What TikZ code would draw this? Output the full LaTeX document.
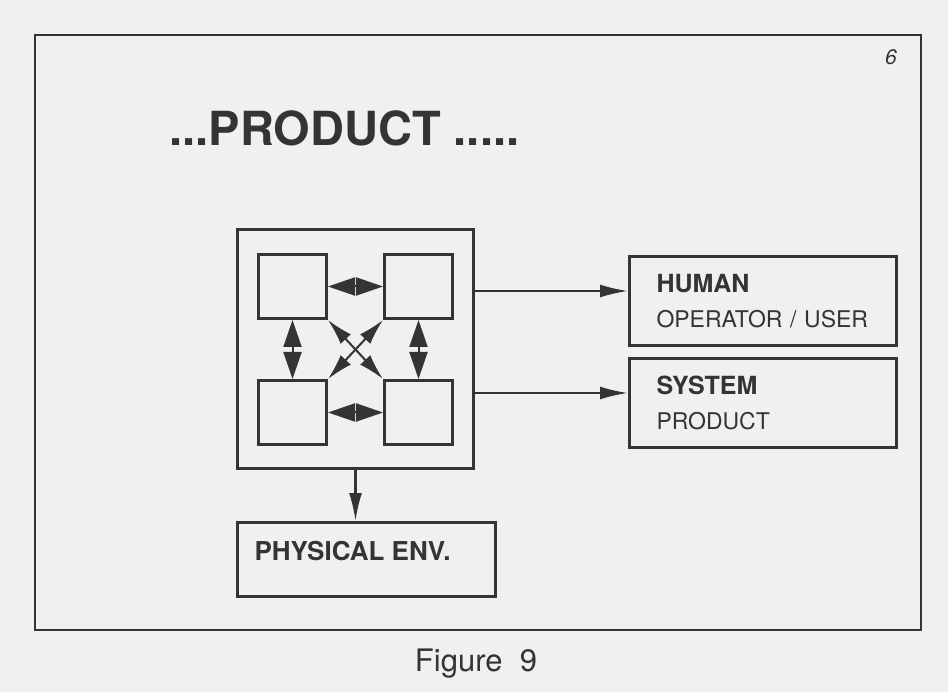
\documentclass[tikz,border=0pt]{standalone}
\usepackage{fontspec}
\setmainfont{TeX Gyre Heros}
\usetikzlibrary{arrows.meta, positioning}
\definecolor{ink}{RGB}{52,52,52}
\definecolor{paper}{RGB}{240,240,238}

\begin{document}
\begin{tikzpicture}[x=1pt,y=-1pt,color=ink,
          box/.style={draw=ink,line width=3pt,inner sep=0pt,anchor=north west},
          cell/.style={box,minimum width=68pt,minimum height=64pt},
          infobox/.style={box,minimum width=267pt,minimum height=89pt,
                          text width=213pt,inner xsep=27pt,align=left,
                          font=\fontsize{23}{35}\selectfont},
          link/.style={line width=2pt,{Triangle[length=27pt,width=18pt]}-{Triangle[length=27pt,width=18pt]}},
          cross/.style={line width=2pt,{Latex[length=26pt,width=14pt]}-{Latex[length=26pt,width=14pt]}},
          flow/.style={line width=2.2pt,-{Latex[length=28pt,width=13pt]}}]
        % paper and frame
        \fill[paper] (0,0) rectangle (948,692);
        \useasboundingbox (0,0) rectangle (948,692);
        \draw[line width=2.6pt] (35,35) rectangle (921,630);
        \node[font=\itshape\fontsize{21}{24}\selectfont](page) at (891,57){6};
        \node[font=\bfseries\fontsize{47}{50}\selectfont,anchor=west](title) at (166,128){...PRODUCT .....};

        % product block
        \node[box,minimum width=236pt,minimum height=239pt](main) at (236,228){};
        \node[cell](b1) at (257,253){};
        \node[cell](b2) at (383,253){};
        \node[cell](b3) at (257,379){};
        \node[cell](b4) at (383,379){};
        \draw[link] (b1) -- (b2);
        \draw[link] (b3) -- (b4);
        \draw[link] (b1) -- (b3);
        \draw[link] (b2) -- (b4);
        \draw[cross] (b1.south east) -- (b4.north west);
        \draw[cross] (b2.south west) -- (b3.north east);

        % surroundings
        \node[infobox](human) at (628,255){
          {\bfseries\fontsize{25}{30}\selectfont HUMAN}\\
          OPERATOR / USER
        };
        \node[infobox](system) at (628,357){
          {\bfseries\fontsize{25}{30}\selectfont SYSTEM}\\
          PRODUCT
        };
        \node[box,minimum width=258pt,minimum height=74pt,
              label={[anchor=north west,xshift=15pt,yshift=-17pt,
                      font=\bfseries\fontsize{26}{30}\selectfont]north west:PHYSICAL ENV.}](env) at (236,521){};
        \coordinate (hin) at ([yshift=10pt]human.west);
        \coordinate (sin) at ([yshift=10pt]system.west);
        \draw[flow] (main.east |- hin) -- (hin);
        \draw[flow] (main.east |- sin) -- (sin);
        \draw[flow] (main.south) -- (main.south |- env.north);

        \node[font=\fontsize{31}{34}\selectfont](caption) at (476,664){Figure~~9};
      \end{tikzpicture}
\end{document}
